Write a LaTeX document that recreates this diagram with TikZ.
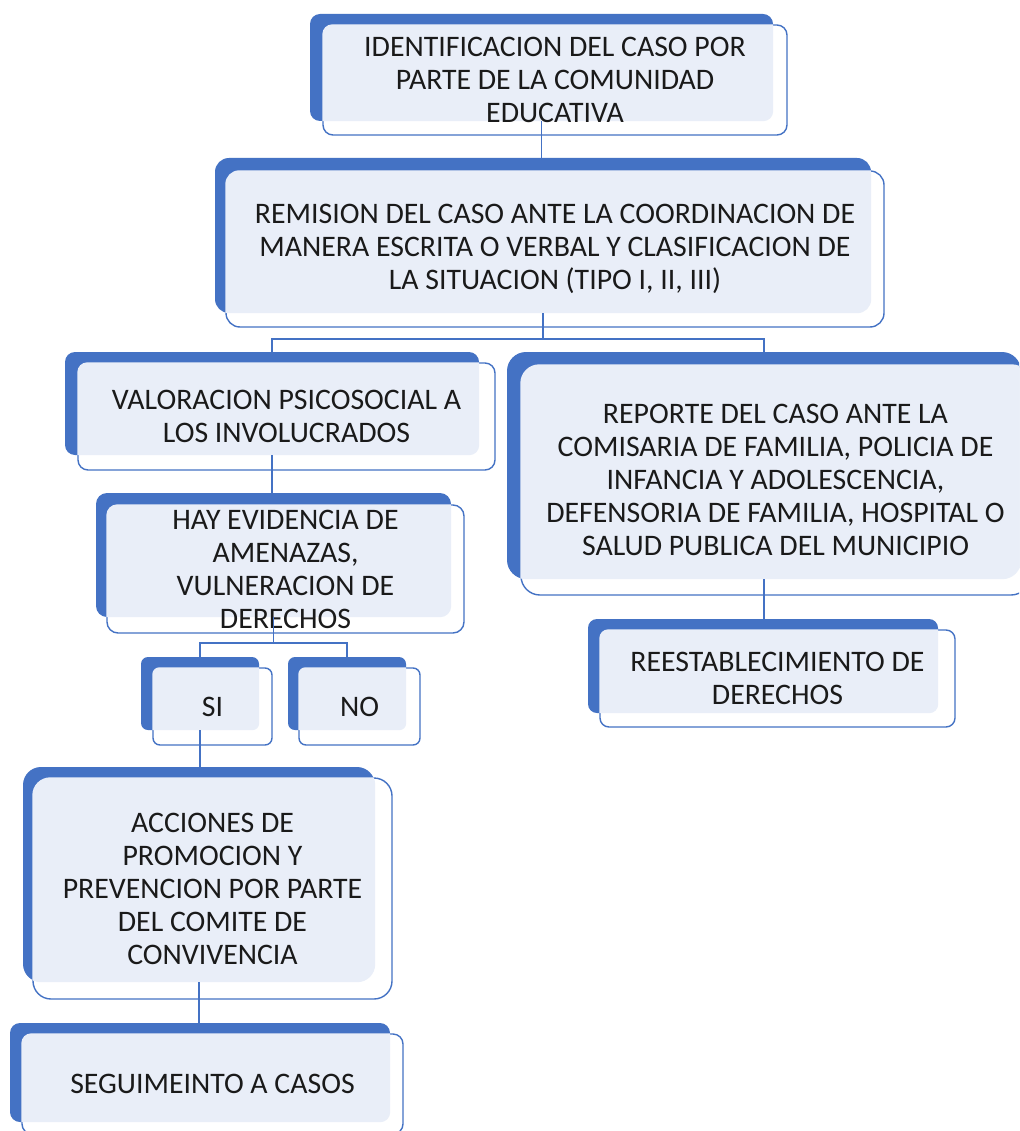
\documentclass[tikz,border=0pt]{standalone}
\usepackage{fontspec}
\setmainfont{Carlito}
\usetikzlibrary{fit}
\definecolor{bk}{HTML}{4472C4}
\definecolor{lt}{HTML}{E9EEF8}
\definecolor{tx}{HTML}{1A1A1A}
\tikzset{
  backbox/.style={inner sep=0pt, fill=bk},
  frontbox/.style={inner sep=0pt, fill=white, draw=bk, line width=1.4pt},
  txt/.style={align=center, text=tx, font=\fontsize{29.8}{33}\selectfont, inner sep=0pt},
  conn/.style={draw=bk, line width=1.4pt}
}
\newcommand{\flowbox}[7][12pt]{%
  \node[backbox, rounded corners=#1, fit={#3 #4}] (#2b) {};
  \node[frontbox, rounded corners=#1, fit={#5 #6}] (#2) {};
  \begin{scope}
    \clip[rounded corners=#1] (#2b.south west) rectangle (#2b.north east);
    \fill[lt, rounded corners=#1] (#2.south west) rectangle (#2.north east);
  \end{scope}
  \node[txt] (#2t) at (#2.center) {#7};
}
\begin{document}
\begin{tikzpicture}[x=1pt, y=-1pt]
\useasboundingbox (0,0) rectangle (1019,1131);
\clip (0,0) rectangle (1019,1131);
\fill[white] (0,0) rectangle (1019,1131);

\flowbox[10pt]{id}{(310,14)}{(773,121)}{(323,25)}{(787,135)}{IDENTIFICACION DEL CASO POR\\PARTE DE LA COMUNIDAD\\EDUCATIVA}
\flowbox[14pt]{rem}{(215,158)}{(871,313)}{(226,171)}{(884,327)}{REMISION DEL CASO ANTE LA COORDINACION DE\\MANERA ESCRITA O VERBAL Y CLASIFICACION DE\\LA SITUACION (TIPO I, II, III)}
\flowbox[10pt]{val}{(65,352)}{(479,455)}{(78,363)}{(495,470)}{VALORACION PSICOSOCIAL A\\LOS INVOLUCRADOS}
\flowbox[19pt]{rep}{(507,352)}{(1021,579)}{(521,365)}{(1030,595)}{REPORTE DEL CASO ANTE LA\\COMISARIA DE FAMILIA, POLICIA DE\\INFANCIA Y ADOLESCENCIA,\\DEFENSORIA DE FAMILIA, HOSPITAL O\\SALUD PUBLICA DEL MUNICIPIO}
\flowbox[11pt]{hay}{(96,493)}{(451,617)}{(107,505)}{(464,633)}{HAY EVIDENCIA DE\\AMENAZAS,\\VULNERACION DE\\DERECHOS}
\flowbox[7pt]{si}{(141,657)}{(259,730)}{(153,668)}{(272,745)}{SI}
\flowbox[7pt]{no}{(288,657)}{(406,730)}{(299,668)}{(420,745)}{NO}
\flowbox[9pt]{rees}{(588,619)}{(938,713)}{(600,630)}{(955,727)}{REESTABLECIMIENTO DE\\DERECHOS}
\flowbox[18pt]{acc}{(23,767)}{(375,982)}{(33,778)}{(392,999)}{ACCIONES DE\\PROMOCION Y\\PREVENCION POR PARTE\\DEL COMITE DE\\CONVIVENCIA}
\flowbox[10pt]{seg}{(10,1023)}{(390,1122)}{(22,1034)}{(403,1134)}{SEGUIMEINTO A CASOS}

\coordinate (j1) at (0,339);
\coordinate (j2) at (0,643);
\draw[conn] (idb.south) -- (idb.south |- remb.north);
\draw[conn] (remb.south) -- (remb.south |- j1) -| (valb.north);
\draw[conn] (remb.south |- j1) -| (repb.north);
\draw[conn] (valb.south) -- (valb.south |- hayb.north);
\draw[conn] (hayb.south) -- (hayb.south |- j2) -| (sib.north);
\draw[conn] (hayb.south |- j2) -| (nob.north);
\draw[conn] (repb.south) -- (repb.south |- reesb.north);
\draw[conn] (sib.south) -- (sib.south |- accb.north);
\draw[conn] (accb.south) -- (accb.south |- segb.north);
\end{tikzpicture}
\end{document}
